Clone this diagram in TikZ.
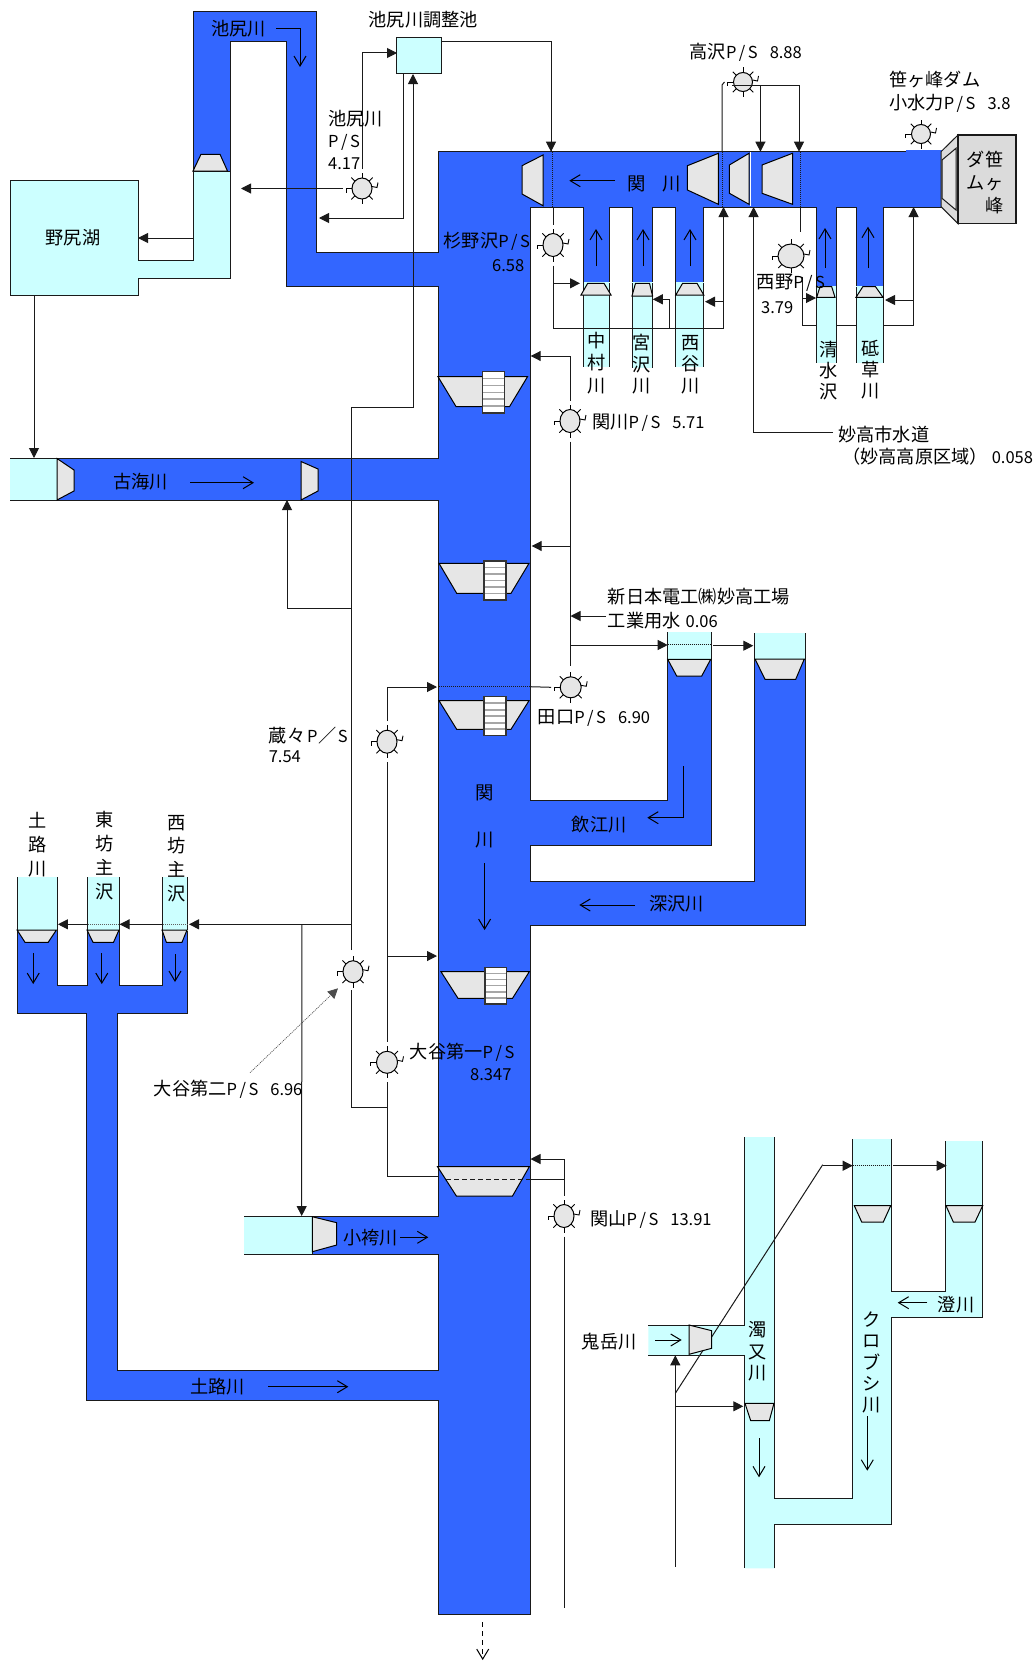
\documentclass[tikz,border=0pt]{standalone}
\usepackage{fontspec}
\setmainfont{Noto Sans CJK JP}
\usetikzlibrary{arrows.meta,shapes.geometric}
\definecolor{riverblue}{HTML}{3366FF}
\definecolor{riverlight}{HTML}{CCFFFF}
\definecolor{gategray}{HTML}{E6E6E6}
\definecolor{damgray}{HTML}{DBDBDB}
\definecolor{inkline}{HTML}{1A1A1A}
\newcommand{\lat}[1]{{\fontsize{16.5}{20}\selectfont #1}}
\newcommand{\Ps}{\lat{P\kern2.5pt/\kern2.5pt S}}
\tikzset{
  edge/.style={line width=1pt,draw=inkline},
  riverb/.style={fill=riverblue,edge,line join=miter},
  riverl/.style={fill=riverlight,edge},
  lightfill/.style={fill=riverlight},
  gatebox/.style={fill=gategray,draw=black,line width=1pt,line join=miter},
  arr/.style={line width=1pt,draw=inkline,-{Triangle[length=10pt,width=10pt]}},
  plain/.style={line width=1pt,draw=inkline},
  flow/.style={line width=1pt,draw=black,-{Straight Barb[length=10pt,width=12pt]}},
  dots/.style={line width=1pt,draw=inkline,dash pattern=on 1pt off 1pt},
  pscirc/.style={ellipse,draw=black,fill=gategray,line width=1pt,inner sep=0pt,outer sep=9pt},
  psray/.style={line width=0.9pt,draw=black},
  lbl/.style={anchor=west,inner sep=0pt,font=\fontsize{18.2}{20}\selectfont},
  lblc/.style={anchor=center,inner sep=0pt,font=\fontsize{18.2}{20}\selectfont},
  vl/.style={align=center,inner sep=0pt,font=\fontsize{18.2}{#1}\selectfont},
}
\newcommand{\PSsym}[5]{%
  \node[pscirc,minimum width=#4pt,minimum height=#5pt] (#1) at (#2,#3) {};
  \begin{scope}[shift={(#2,#3)}]
    \foreach \a in {45,90,135,225,270,315}
      \draw[psray] (\a:{#4/2} and {#5/2}) -- (\a:{#4/2+5} and {#5/2+5});
    \draw[psray] ({#4/2},-2) -- ({#4/2+5},-1) -- ({#4/2+6},-6);
    \draw[psray] ({-#4/2},0) -- ({-#4/2-6},0) -- ({-#4/2-6},4);
  \end{scope}}
\newcommand{\Ladder}[4]{%
  \fill[white] (#1,#2) rectangle (#3,#4);
  \foreach \k in {1,...,5}
    \draw[line width=1.6pt,draw=black!35] (#1,{#2+\k*(#4-#2)/6}) -- (#3,{#2+\k*(#4-#2)/6});
  \draw[line width=1.2pt,draw=black!80] (#1,#2) rectangle (#3,#4);}
\begin{document}
\begin{tikzpicture}[x=1pt,y=-1pt]
\useasboundingbox (0,0) rectangle (1035,1662);
\fill[white] (0,0) rectangle (1035,1662);

% ---- blue river network
\draw[riverb] (438,151) -- (941,151) -- (941,207) -- (883,207) -- (883,287) -- (856,287) -- (856,207)
  -- (836,207) -- (836,287) -- (816.7,287) -- (816.7,207) -- (703.8,207) -- (703.8,283) -- (675.8,283)
  -- (675.8,207) -- (652.6,207) -- (652.6,283) -- (632,283) -- (632,207) -- (609.6,207) -- (609.6,283)
  -- (583.6,283) -- (583.6,207) -- (530,207)
  -- (530,800) -- (667.3,800) -- (667.3,659) -- (711.3,659) -- (711.3,845) -- (530,845) -- (530,881.7)
  -- (754,881.7) -- (754,659) -- (805.3,659) -- (805.3,925) -- (530,925) -- (530,1614.3) -- (438.3,1614.3)
  -- (438.3,1400.7) -- (86,1400.7) -- (86,1013.3) -- (17,1013.3) -- (17,930) -- (57,930) -- (57,985.7)
  -- (87,985.7) -- (87,930) -- (119,930) -- (119,985.7) -- (162,985.7) -- (162,930) -- (187.5,930)
  -- (187.5,1013.3) -- (117,1013.3) -- (117,1370.3) -- (438,1370.3) -- (438,1254.3) -- (312.3,1254.3)
  -- (312.3,1216) -- (438,1216) -- (438,500) -- (57,500) -- (57,458.3) -- (438,458.3) -- (438,286.7)
  -- (286,286.7) -- (286,41.7) -- (230,41.7) -- (230,171) -- (193,171) -- (193,11.7) -- (316,11.7)
  -- (316,252.3) -- (438,252.3) -- cycle;
\draw[line width=1.6pt,draw=riverblue] (906,151) -- (941.5,151);

% ---- lake and light river parts
\draw[riverl] (10,180.7) -- (138,180.7) -- (138,260.3) -- (193,260.3) -- (193,171) -- (230,171) -- (230,278.7)
  -- (138,278.7) -- (138,295) -- (10,295) -- cycle;
\fill[lightfill] (10,458.3) rectangle (57,500);
\draw[edge] (10,458.3) -- (57,458.3) (10,500) -- (57,500);
\fill[lightfill] (244.3,1216) rectangle (312.3,1254.3);
\draw[edge] (244.3,1216) -- (312.3,1216) (244.3,1254.3) -- (312.3,1254.3);
% top tributaries
\fill[lightfill] (583.6,282) rectangle (609.6,366.7);
\fill[lightfill] (632,282) rectangle (652.6,368);
\fill[lightfill] (675.8,282) rectangle (703.8,366.7);
\fill[lightfill] (816.7,286) rectangle (836,362.7);
\fill[lightfill] (856,286) rectangle (883,362.7);
\draw[edge] (583.6,283) -- (583.6,366.7) (609.6,283) -- (609.6,366.7)
  (632,283) -- (632,368) (652.6,283) -- (652.6,368)
  (675.8,283) -- (675.8,366.7) (703.8,283) -- (703.8,366.7)
  (816.7,287) -- (816.7,362.7) (836,287) -- (836,362.7)
  (856,287) -- (856,362.7) (883,287) -- (883,362.7);
% side rivers with light heads
\fill[lightfill] (667.3,632) rectangle (711.3,659);
\fill[lightfill] (754,633) rectangle (805.3,659);
\draw[edge] (667.3,632) -- (667.3,659) (711.3,632) -- (711.3,659) (754,633) -- (754,659) (805.3,633) -- (805.3,659);
\fill[lightfill] (17,877.3) rectangle (57,930.6);
\fill[lightfill] (87,877.3) rectangle (119,930.6);
\fill[lightfill] (162,877.3) rectangle (187.5,930.6);
\draw[edge] (17,877.3) -- (17,930) (57,877.3) -- (57,930) (87,877.3) -- (87,930) (119,877.3) -- (119,930)
  (162,877.3) -- (162,930) (187.5,877.3) -- (187.5,930);
% lower right system
\fill[lightfill] (744.3,1137) -- (744.3,1325) -- (648.3,1325) -- (648.3,1355.3) -- (744.3,1355.3) -- (744.3,1568.3)
  -- (774.3,1568.3) -- (774.3,1524.3) -- (891.7,1524.3) -- (891.7,1317.7) -- (982.7,1317.7) -- (982.7,1141)
  -- (945.7,1141) -- (945.7,1291) -- (891.7,1291) -- (891.7,1139) -- (852.7,1139) -- (852.7,1498.3)
  -- (774.3,1498.3) -- (774.3,1137) -- cycle;
\draw[edge] (744.3,1137) -- (744.3,1325) -- (648.3,1325)
  (648.3,1355.3) -- (744.3,1355.3) -- (744.3,1568.3)
  (774.3,1568.3) -- (774.3,1524.3) -- (891.7,1524.3) -- (891.7,1317.7) -- (982.7,1317.7) -- (982.7,1141)
  (945.7,1141) -- (945.7,1291) -- (891.7,1291) -- (891.7,1139)
  (852.7,1139) -- (852.7,1498.3) -- (774.3,1498.3) -- (774.3,1137);

% ---- reservoir, dam
\node[draw=inkline,fill=riverlight,line width=1pt,minimum width=44.5pt,minimum height=36pt,inner sep=0pt,outer sep=0pt] (res) at (419.2,55.3) {};
\draw[fill=damgray,draw=inkline,line width=1pt] (941,151.7) -- (958,135) -- (958,223.7) -- (941,206.7) -- cycle;
\draw[fill=gategray,draw=inkline,line width=1pt] (942,160) -- (956,148.3) -- (956,210) -- (942,198.3) -- cycle;
\node[draw=inkline,fill=damgray,line width=1.2pt,minimum width=58pt,minimum height=88.7pt,inner sep=0pt,outer sep=0pt] (dam) at (987,179.3) {};

% ---- power stations
\PSsym{ike}{362}{188.5}{20}{21}
\PSsym{sug}{553}{245}{20}{23}
\PSsym{tak}{743}{82}{19}{19}
\PSsym{nsn}{791}{256}{26}{24}
\PSsym{sas}{921}{134}{19}{19}
\PSsym{sek}{570}{421}{20}{23}
\PSsym{tag}{570.7}{687.3}{21}{21}
\PSsym{kur}{387}{741.7}{20}{23}
\PSsym{ot2}{353}{971.7}{20}{22}
\PSsym{ot1}{387}{1062.3}{21}{22}
\PSsym{kan}{564}{1216}{20}{23}

% ---- named connector ends
\coordinate (lakeIn) at (138,238);
\coordinate (lakeS) at (34,295);
\coordinate (furuHead) at (34,458);
\coordinate (resSA) at (403,73.3);
\coordinate (resSB) at (413,74);
\coordinate (resW) at (397,53);
\coordinate (resE) at (441.5,41.7);
\coordinate (bandA) at (551,151.7);
\coordinate (bandB) at (760.4,151.7);
\coordinate (bandC) at (799,151.7);
\coordinate (bandD) at (722,207);
\coordinate (bandE) at (723.5,207);
\coordinate (bandF) at (753.6,207);
\coordinate (bandG) at (913.6,207);
\coordinate (furuS) at (287,500);
\coordinate (mainN) at (530.7,356);
\coordinate (mainM) at (531.7,546);
\coordinate (mainTag) at (437,687);
\coordinate (mainOt) at (437,956);
\coordinate (mainKan) at (530.5,1159);
\coordinate (koba) at (301.7,1216);
\coordinate (nsnB) at (802,276.7);
\coordinate (ot2N) at (351,950);
\coordinate (ot2S) at (351,990);

% ---- conduits
\draw[arr] (ike.north) |- (resW);
\draw[arr] (ike.west) -- (241,188.5);
\draw[arr] (resSA) -- (403,218) -- (319,218);
\draw[arr] (ot2N) -- (351,407) -- (413,407) -- (resSB);
\draw[plain] (ot2S) -- (351,1107.3) -- (387,1107.3);
\draw[arr] (351,608) -- (287,608) -- (furuS);
\draw[plain] (resE) -- (551,41.7) -- (551,151);
\draw[arr] (551,100) -- (bandA);
\draw[arr] (193,238) -- (lakeIn);
\draw[arr] (lakeS) -- (furuHead);
\draw[plain] (sug.north) -- (553,207);
\draw[dots] (552,152) -- (552,207);
\draw[arr] (sug.south) -- (553,328.3) -- (723.5,328.3) -- (bandE);
\draw[arr] (553.6,283.3) -- (580,283.3);
\draw[arr] (669,328.3) -- (669,299.3) -- (652.8,299.3);
\draw[arr] (723.5,301.7) -- (705,301.7);
\draw[plain] (722,151) -- (722,85) -- (tak.west);
\draw[dots] (722,152) -- (bandD);
\draw[arr] (732,85) -- (760.4,85) -- (bandB);
\draw[arr] (799,85) -- (bandC);
\draw[plain] (760.4,85) -- (799,85);
\draw[dots] (800,152) -- (800,207);
\draw[plain] (800,207) -- (800,232);
\draw[plain] (nsnB) -- (802,325) -- (817,325);
\draw[plain] (836,325) -- (856,325);
\draw[arr] (802,298) -- (816,298);
\draw[arr] (883,325) -- (913.6,325) -- (bandG);
\draw[arr] (913.6,300) -- (885,300);
\draw[arr] (833,432.7) -- (753.6,432.7) -- (bandF);
\draw[arr] (sek.north) -- (570,356) -- (mainN);
\draw[plain] (sek.south) -- (570,666);
\draw[arr] (570,546) -- (mainM);
\draw[arr] (605.7,616) -- (570.5,616);
\draw[arr] (570,645) -- (667.7,645);
\draw[dots] (667.7,644) -- (710,644);
\draw[arr] (713,645.7) -- (753.3,645.7);
\draw[plain] (tag.west) -- (530,686.7);
\draw[dots] (530,686.7) -- (438,686.7);
\draw[arr] (kur.north) -- (387,687) -- (mainTag);
\draw[plain] (kur.south) -- (ot1.north);
\draw[arr] (387,956) -- (mainOt);
\draw[plain] (ot1.south) -- (387,1176.7) -- (437.5,1176.7);
\draw[arr] (351,924.3) -- (189,924.3);
\draw[dots,draw=inkline!70] (187.5,924.3) -- (162,924.3);
\draw[arr] (161.8,924.3) -- (119.6,924.3);
\draw[dots,draw=inkline!70] (119,924.3) -- (87,924.3);
\draw[arr] (86.8,924.3) -- (57.9,924.3);
\draw[arr] (301.8,924.3) -- (koba);
\draw[line width=0.7pt,draw=black!70,dash pattern=on 1pt off 1pt,-{Triangle[length=10pt,width=10pt]}] (250,1072.7) -- (338,988.3);
\draw[arr] (kan.north) -- (564,1159) -- (mainKan);
\draw[plain] (564,1179) -- (530,1179);
\draw[plain] (kan.south) -- (564,1608.3);
% lower right conduits
\draw[plain] (675.3,1393.3) -- (822.7,1164.7);
\draw[arr] (822.7,1165.7) -- (852.7,1165.7);
\draw[dots] (852.7,1165) -- (891.7,1165);
\draw[arr] (893,1165.7) -- (946.7,1165.7);
\draw[arr] (675.3,1566.7) -- (675.3,1355.3);
\draw[arr] (675.3,1406.3) -- (743.3,1406.3);

% ---- gates
\draw[gatebox] (193,171) -- (227.5,171) -- (220,154.3) -- (201,154.3) -- cycle;
\draw[gatebox] (57,458.5) -- (74,470) -- (74,491) -- (57,500) -- cycle;
\draw[gatebox] (301,461.5) -- (318,469) -- (318,491) -- (301,500) -- cycle;
\draw[gatebox] (312.3,1216.7) -- (336.7,1222.7) -- (336.7,1245) -- (312.3,1251.7) -- cycle;
\draw[gatebox] (522,165.7) -- (543,155) -- (543,205.7) -- (522,194) -- cycle;
\draw[gatebox] (687.4,165.7) -- (718.4,153.3) -- (718.4,204.3) -- (687.4,190) -- cycle;
\draw[gatebox] (729.4,165) -- (749,153.3) -- (749,204.3) -- (729.4,193.3) -- cycle;
\draw[line width=1pt,draw=white] (750,152) -- (750,206);
\draw[gatebox] (762,165) -- (792.5,153.3) -- (792.5,204.3) -- (762,193.3) -- cycle;
\draw[gatebox] (581,295) -- (611,295) -- (604,283.3) -- (587.7,283.3) -- cycle;
\draw[gatebox] (632,296) -- (652.6,296) -- (649.5,283.3) -- (635.5,283.3) -- cycle;
\draw[gatebox] (675.8,295) -- (703.8,295) -- (697,283.3) -- (682.6,283.3) -- cycle;
\draw[gatebox] (816.7,297.3) -- (835,297.3) -- (831.7,286.7) -- (820,286.7) -- cycle;
\draw[gatebox] (856,297.3) -- (883,297.3) -- (875.5,286.7) -- (862.8,286.7) -- cycle;
\draw[gatebox] (667.7,659.3) -- (710.7,659.3) -- (701.7,676) -- (676.7,676) -- cycle;
\draw[gatebox] (755,659) -- (804.3,659) -- (795.7,679.3) -- (765,679.3) -- cycle;
\draw[gatebox] (17.1,930) -- (56.4,930) -- (48.2,942.3) -- (25,942.3) -- cycle;
\draw[gatebox] (87,930) -- (119,930) -- (113.5,942.3) -- (93,942.3) -- cycle;
\draw[gatebox] (162,930) -- (187,930) -- (182,942.3) -- (166.4,942.3) -- cycle;
\draw[gatebox] (689,1325) -- (711.7,1330.7) -- (711.7,1348.3) -- (689,1354.3) -- cycle;
\draw[gatebox] (745,1403.3) -- (774,1403.3) -- (769.3,1420.7) -- (750.7,1420.7) -- cycle;
\draw[gatebox] (854.3,1205.7) -- (890.7,1205.7) -- (883.3,1222) -- (861.7,1222) -- cycle;
\draw[gatebox] (946,1205.7) -- (982.7,1205.7) -- (975,1222) -- (953.3,1222) -- cycle;

% ---- main river weirs
\draw[gatebox] (438,376.7) -- (527.5,376.7) -- (509.6,406.5) -- (456,406.5) -- cycle;
\Ladder{482.4}{371.7}{504.5}{413}
\draw[gatebox] (439,563.3) -- (529,563.3) -- (511,593.3) -- (456.7,593.3) -- cycle;
\Ladder{484}{561}{506}{600}
\draw[gatebox] (439,700.7) -- (529,700.7) -- (511,729.3) -- (456.7,729.3) -- cycle;
\Ladder{484}{696.7}{506}{735.7}
\draw[gatebox] (441,971.7) -- (529.3,971.7) -- (512.5,998.3) -- (458,998.3) -- cycle;
\Ladder{485}{967.3}{506.4}{1004}
\draw[gatebox] (437.5,1166.7) -- (529.3,1166.7) -- (512.5,1196) -- (456.4,1196) -- cycle;
\draw[line width=1pt,draw=inkline,dash pattern=on 5pt off 3pt] (446,1179) -- (530,1179);

% ---- flow arrows
\draw[flow] (276,29) -- (300,29) -- (300,67);
\draw[flow] (190,482.7) -- (254,482.7);
\draw[flow] (615,180.7) -- (569.3,180.7);
\draw[flow] (596,266) -- (596,229);
\draw[flow] (643,266) -- (643,229);
\draw[flow] (690,266) -- (690,229);
\draw[flow] (825,268) -- (825,228);
\draw[flow] (868,268) -- (868,226.7);
\draw[flow] (484.6,863.3) -- (484.6,930);
\draw[flow] (683.3,766) -- (683.3,817.7) -- (647.3,817.7);
\draw[flow] (635,905) -- (579.3,905);
\draw[flow] (33.2,953.3) -- (33.2,984);
\draw[flow] (101.8,953.3) -- (101.8,984);
\draw[flow] (175,954) -- (175,982);
\draw[flow] (400,1237.3) -- (428.3,1237.3);
\draw[flow] (268.3,1386.7) -- (348.3,1386.7);
\draw[flow,dash pattern=on 5pt off 4pt] (482.7,1622.3) -- (482.7,1660);
\draw[flow] (655,1340) -- (681.7,1340);
\draw[flow] (759,1438.3) -- (759,1477.3);
\draw[flow] (867.3,1416) -- (867.3,1470.7);
\draw[flow] (927.3,1302.7) -- (897.7,1302.7);

% ---- labels
\node[lbl] (t1) at (211,29) {池尻川};
\node[lbl] (t2) at (368.5,20) {池尻川調整池};
\node[lblc] (t3) at (73,237.7) {野尻湖};
\node[lbl,align=left,font=\fontsize{18.2}{22.3}\selectfont] (t4) at (328,140) {池尻川\\\Ps\\\lat{4.17}};
\node[lbl] (t5) at (443.5,241) {杉野沢\Ps};
\node[lbl] (t6) at (492,265.7) {\lat{6.58}};
\node[lbl] (t7) at (689.4,52.7) {高沢\Ps\hspace{12pt}\lat{8.88}};
\node[lbl] (t8) at (889,80) {笹ヶ峰ダム};
\node[lbl] (t9) at (889,103) {小水力\Ps\hspace{12pt}\lat{3.8}};
\node[vl=23,align=right,anchor=center] (t10) at (985,183) {ダ笹\\ムヶ\\峰};
\node[lbl,font=\fontsize{18.4}{20}\selectfont] (t11) at (627,184) {関\hspace{17pt}川};
\node[vl=22.5] (t12) at (597,363) {中\\村\\川};
\node[vl=21.5] (t13) at (641.6,364.5) {宮\\沢\\川};
\node[vl=21.5] (t14) at (691,364.5) {西\\谷\\川};
\node[vl=21] (t15) at (828.7,371) {清\\水\\沢};
\node[vl=21] (t16) at (870.3,370) {砥\\草\\川};
\node[lbl] (t17) at (756.7,283) {西野\Ps};
\node[lbl] (t18) at (761,307.7) {\lat{3.79}};
\node[lbl] (t19) at (838,435) {妙高市水道};
\node[lbl] (t20) at (842,456.7) {（妙高高原区域）\hspace{4pt}\lat{0.058}};
\node[lbl] (t21) at (592,422.7) {関川\Ps\hspace{12pt}\lat{5.71}};
\node[lbl] (t22) at (607.7,596.7) {新日本電工㈱妙高工場};
\node[lbl] (t23) at (607.7,620.7) {工業用水\hspace{5pt}\lat{0.06}};
\node[lbl] (t24) at (537.7,717.7) {田口\Ps\hspace{12pt}\lat{6.90}};
\node[lbl] (t25) at (113,481.7) {古海川};
\node[lbl] (t26) at (571.7,824.3) {飲江川};
\node[lbl] (t27) at (649,904) {深沢川};
\node[lbl] (t28) at (268.6,736) {蔵々\kern2pt\lat{P}\kern1pt／\kern1pt\lat{S}};
\node[lbl] (t29) at (268.6,756.7) {\lat{7.54}};
\node[vl=47,anchor=center,font=\fontsize{18.4}{47}\selectfont] (t30) at (484.5,816.5) {関\\川};
\node[vl=24] (t31) at (37.5,844.2) {土\\路\\川};
\node[vl=24] (t32) at (104.6,856) {東\\坊\\主\\沢};
\node[vl=23.7] (t33) at (176.4,858.5) {西\\坊\\主\\沢};
\node[lbl] (t34) at (409.6,1052.7) {大谷第一\Ps};
\node[lbl] (t35) at (470,1075) {\lat{8.347}};
\node[lbl] (t36) at (153.6,1089) {大谷第二\Ps\hspace{12pt}\lat{6.96}};
\node[lbl] (t37) at (590,1219.3) {関山\Ps\hspace{12pt}\lat{13.91}};
\node[lbl] (t38) at (343.3,1237.7) {小袴川};
\node[lbl] (t39) at (190,1387) {土路川};
\node[lbl] (t40) at (581.7,1341.7) {鬼岳川};
\node[vl=21.5] (t41) at (757.3,1351.5) {濁\\又\\川};
\node[vl=21.2] (t42) at (871.7,1362.5) {ク\\ロ\\ブ\\シ\\川};
\node[lbl] (t43) at (937.7,1305) {澄川};
\end{tikzpicture}
\end{document}
